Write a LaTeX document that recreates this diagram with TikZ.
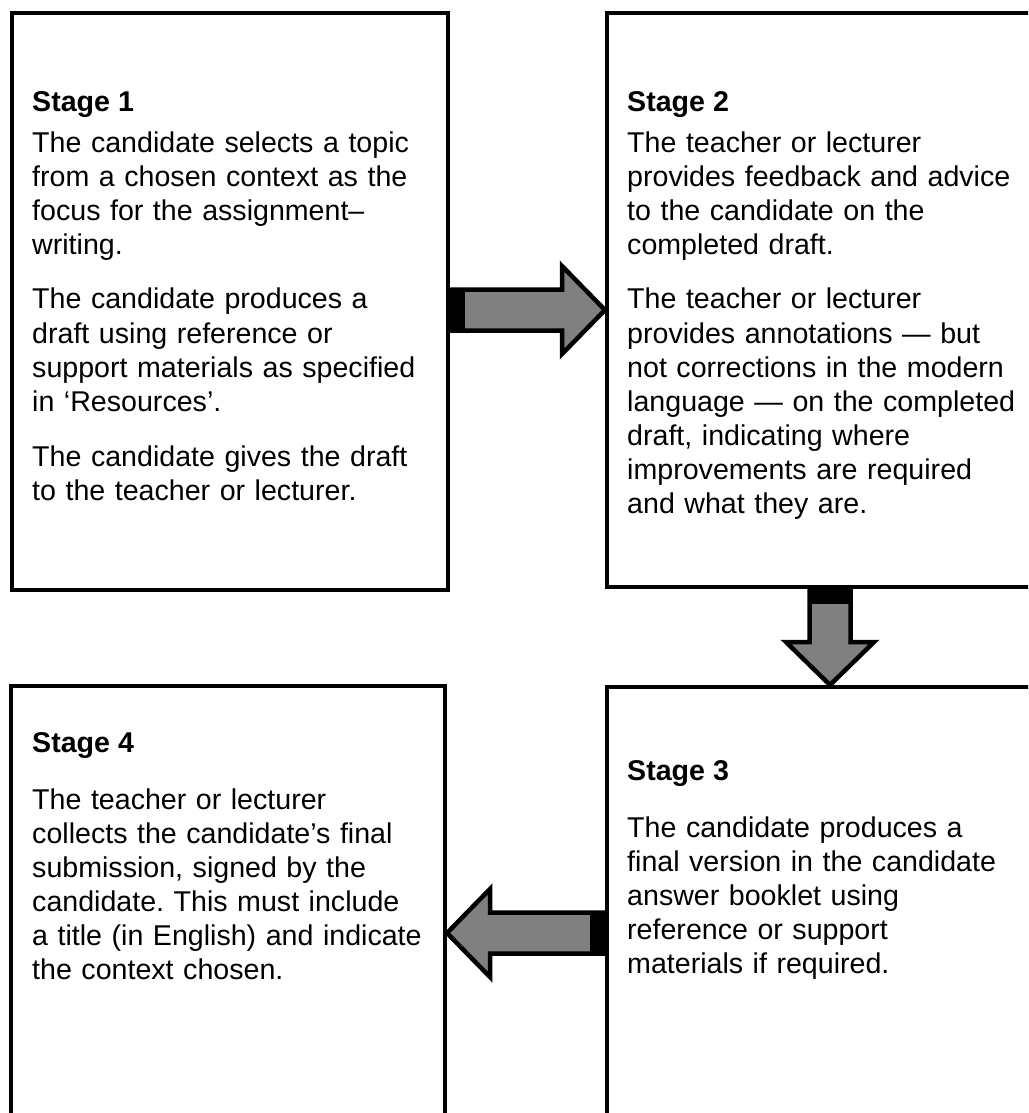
\documentclass[tikz,border=0pt]{standalone}
\usepackage{fontspec}
\setmainfont{Liberation Sans}
\usetikzlibrary{positioning,calc}
\frenchspacing

\begin{document}
\begin{tikzpicture}[
    x=1pt, y=-1pt,
    stagebox/.style={rectangle, draw, line width=4pt, inner sep=0pt, anchor=north west},
    stagehead/.style={anchor=base west, inner sep=0pt, font=\fontsize{28.6pt}{34pt}\selectfont\bfseries},
    stagetext/.style={anchor=base west, inner sep=0pt, text width=420pt, align=left, font=\fontsize{28.6pt}{34pt}\selectfont},
    blockarrow/.style={draw, line width=4.5pt, fill=gray, miter limit=10},
]
    \clip (0,0) rectangle (1028,1113);

    \node[stagebox, minimum width=436pt, minimum height=577pt] (s1) at (10,11) {};
    \node[stagebox, minimum width=440pt, minimum height=574pt] (s2) at (605,11) {};
    \node[stagebox, minimum width=440pt, minimum height=500pt] (s3) at (605,685) {};
    \node[stagebox, minimum width=434pt, minimum height=500pt] (s4) at (9,684) {};

    \node[stagehead] (h1) at (32,112) {Stage 1};
    \node[stagetext] (t1) at (32,152) {The candidate selects a topic\\
        from a chosen context as the\\
        focus for the assignment–\\
        writing.\\[21pt]
        The candidate produces a\\
        draft using reference or\\
        support materials as specified\\
        in ‘Resources’.\\[21pt]
        The candidate gives the draft\\
        to the teacher or lecturer.};

    \node[stagehead] (h2) at (627,112) {Stage 2};
    \node[stagetext] (t2) at (627,152) {The teacher or lecturer\\
        provides feedback and advice\\
        to the candidate on the\\
        completed draft.\\[21pt]
        The teacher or lecturer\\
        provides annotations — but\\
        not corrections in the modern\\
        language — on the completed\\
        draft, indicating where\\
        improvements are required\\
        and what they are.};

    \node[stagehead] (h3) at (627,780) {Stage 3};
    \node[stagetext] (t3) at (627,837) {The candidate produces a\\
        final version in the candidate\\
        answer booklet using\\
        reference or support\\
        materials if required.};

    \node[stagehead] (h4) at (32,752) {Stage 4};
    \node[stagetext] (t4) at (32,809) {The teacher or lecturer\\
        collects the candidate’s final\\
        submission, signed by the\\
        candidate. This must include\\
        a title (in English) and indicate\\
        the context chosen.};

    \coordinate (a1) at (s1.east |- 0,310);
    \coordinate (b1) at (s2.west |- 0,310);
    \draw[blockarrow] ($(a1)+(0,-20.5)$) -- ($(b1)+(-43,-20.5)$) -- ($(b1)+(-43,-44)$) -- (b1)
        -- ($(b1)+(-43,44)$) -- ($(b1)+(-43,20.5)$) -- ($(a1)+(0,20.5)$) -- cycle;
    \fill ($(a1)+(0,-22.5)$) rectangle ($(a1)+(15,22.5)$);

    \coordinate (a2) at (s2.south -| 830,0);
    \coordinate (b2) at (s3.north -| 830,0);
    \draw[blockarrow] ($(a2)+(-20.5,0)$) -- ($(b2)+(-20.5,-43)$) -- ($(b2)+(-44,-43)$) -- (b2)
        -- ($(b2)+(44,-43)$) -- ($(b2)+(20.5,-43)$) -- ($(a2)+(20.5,0)$) -- cycle;
    \fill ($(a2)+(-22.5,0)$) rectangle ($(a2)+(22.5,15)$);

    \coordinate (a3) at (s3.west |- 0,933);
    \coordinate (b3) at (s4.east |- 0,933);
    \draw[blockarrow] ($(a3)+(0,-20.5)$) -- ($(b3)+(43,-20.5)$) -- ($(b3)+(43,-44)$) -- (b3)
        -- ($(b3)+(43,44)$) -- ($(b3)+(43,20.5)$) -- ($(a3)+(0,20.5)$) -- cycle;
    \fill ($(a3)+(-15,-22.5)$) rectangle ($(a3)+(0,22.5)$);
\end{tikzpicture}
\end{document}
